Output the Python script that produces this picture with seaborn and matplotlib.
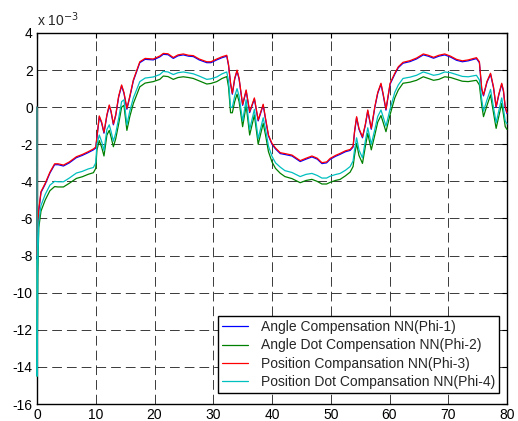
import numpy as np
import pandas as pd
import matplotlib
matplotlib.use("Agg")
import matplotlib.pyplot as plt
import seaborn as sns

# ---- data (values in units of 1e-3) ----
x = [0, 0.03, 0.12, 0.3, 0.68, 1.4, 2.2, 3.0, 3.6, 4.5, 5.5, 6.7, 7.7, 8.7, 9.6, 10.0,
     10.2, 10.6, 11.0, 11.4, 11.9, 12.3, 12.6, 13.0, 13.4, 13.9, 14.4, 14.8, 15.3, 15.8, 16.4,
     17.5, 18.4, 19.8, 20.9, 21.5, 22.3, 23.2, 24.0, 24.9, 25.8, 26.6, 27.6, 28.9, 29.6, 30.6, 31.5, 32.3,
     32.6, 32.95, 33.25, 33.65, 34.05, 34.4, 35.0, 35.6, 36.2, 37.0, 37.65, 38.5, 38.9, 39.4, 40.0, 40.6,
     41.4, 42.2, 43.4, 44.8, 45.8, 46.8, 47.7, 48.5, 49.3, 49.9, 50.8, 51.6, 52.5, 53.3, 53.8,
     54.05, 54.4, 54.8, 55.4, 55.9, 56.3, 56.9, 57.5, 58.0, 58.55, 58.9, 59.4, 60.1, 60.9, 61.5,
     62.3, 63.5, 64.6, 65.75, 66.6, 67.5, 68.4, 69.4, 70.4, 71.4, 72.4, 73.4, 74.8, 75.3,
     75.7, 76.0, 76.6, 77.2, 77.7, 78.15, 78.6, 79.1, 79.4, 79.7, 80.0]

phi1 = [0, -8.2, -6.6, -5.6, -4.6, -4.15, -3.55, -3.1, -3.1, -3.17, -3.0, -2.72, -2.6, -2.45, -2.3, -2.2,
        -1.65, -0.52, -0.85, -1.4, -0.45, 0.07, -0.25, -0.95, -0.45, 0.55, 1.15, 0.75, -0.11, 0.55, 1.42,
        2.4, 2.58, 2.55, 2.71, 2.85, 2.83, 2.63, 2.77, 2.82, 2.75, 2.73, 2.55, 2.4, 2.4, 2.55, 2.67, 2.75,
        2.25, 1.25, 0.7, 1.51, 1.95, 1.51, 0.1, 0.88, -0.29, 0.45, -0.74, 0.11, -0.65, -1.55, -2.0, -2.25,
        -2.5, -2.55, -2.63, -2.93, -2.8, -2.68, -2.8, -3.04, -3.0, -2.81, -2.65, -2.54, -2.4, -2.33, -2.15,
        -1.35, -0.56, -1.19, -1.65, -0.95, -0.2, -1.19, -0.02, 0.75, 1.24, 0.7, -0.16, 1.24, 1.78, 2.13,
        2.37, 2.46, 2.6, 2.82, 2.75, 2.64, 2.75, 2.82, 2.7, 2.53, 2.45, 2.5, 2.62, 2.4,
        0.95, 0.61, 1.35, 1.78, 1.05, -0.02, 0.65, 1.24, 0.85, -0.02, -0.35]

phi2 = [0, -14.5, -9.0, -6.5, -5.6, -5.0, -4.5, -4.28, -4.3, -4.3, -4.1, -3.84, -3.75, -3.62, -3.53, -3.3,
        -2.3, -1.8, -2.15, -2.63, -1.5, -1.25, -1.6, -2.13, -1.7, -0.9, 0.0, 0.1, -1.25, -0.5, 0.2,
        1.1, 1.3, 1.38, 1.5, 1.68, 1.65, 1.5, 1.6, 1.64, 1.6, 1.55, 1.42, 1.25, 1.28, 1.38, 1.55, 1.65,
        1.1, -0.3, -0.3, 0.3, 0.7, 0.3, -1.05, 0.1, -1.5, -0.42, -2.0, -0.87, -1.5, -2.4, -2.95, -3.3,
        -3.56, -3.74, -3.85, -4.07, -3.95, -3.89, -4.0, -4.14, -4.14, -4.05, -3.95, -3.89, -3.7, -3.5, -3.2,
        -2.6, -1.95, -2.6, -3.03, -2.1, -1.41, -2.3, -1.5, -0.8, -0.45, -0.8, -1.32, -0.4, 0.5, 0.93,
        1.29, 1.35, 1.45, 1.64, 1.55, 1.45, 1.5, 1.64, 1.6, 1.5, 1.4, 1.38, 1.45, 1.2,
        0.1, -0.51, 0.1, 0.66, -0.3, -1.14, -0.5, 0.2, -0.4, -1.05, -1.2]

phi3 = [0, -8.0, -6.5, -5.5, -4.55, -4.1, -3.5, -3.05, -3.05, -3.12, -2.95, -2.67, -2.55, -2.4, -2.25, -2.15,
        -1.6, -0.47, -0.8, -1.35, -0.4, 0.12, -0.2, -0.9, -0.4, 0.6, 1.2, 0.8, -0.06, 0.6, 1.47,
        2.45, 2.63, 2.6, 2.76, 2.9, 2.88, 2.68, 2.82, 2.87, 2.8, 2.78, 2.6, 2.45, 2.45, 2.6, 2.72, 2.8,
        2.3, 1.3, 0.75, 1.56, 2.0, 1.56, 0.15, 0.93, -0.24, 0.5, -0.69, 0.16, -0.6, -1.5, -1.95, -2.2,
        -2.45, -2.5, -2.58, -2.88, -2.75, -2.63, -2.75, -2.99, -2.95, -2.76, -2.6, -2.49, -2.35, -2.28, -2.1,
        -1.3, -0.51, -1.14, -1.6, -0.9, -0.15, -1.14, 0.03, 0.8, 1.29, 0.75, -0.11, 1.29, 1.83, 2.18,
        2.42, 2.51, 2.65, 2.87, 2.8, 2.69, 2.8, 2.87, 2.75, 2.58, 2.5, 2.55, 2.67, 2.45,
        1.0, 0.66, 1.4, 1.83, 1.1, 0.03, 0.7, 1.29, 0.9, 0.03, -0.3]

phi4 = [0, -14.5, -8.6, -6.2, -5.3, -4.7, -4.2, -4.0, -4.02, -4.02, -3.82, -3.55, -3.46, -3.33, -3.25, -3.0,
        -2.0, -1.5, -1.85, -2.33, -1.2, -0.95, -1.3, -1.83, -1.4, -0.6, 0.3, 0.4, -0.95, -0.2, 0.5,
        1.38, 1.57, 1.63, 1.76, 1.93, 1.9, 1.76, 1.86, 1.9, 1.85, 1.8, 1.68, 1.5, 1.53, 1.63, 1.8, 1.9,
        1.4, 0.0, 0.0, 0.6, 1.0, 0.6, -0.75, 0.4, -1.2, -0.12, -1.7, -0.57, -1.2, -2.1, -2.65, -3.0,
        -3.23, -3.42, -3.52, -3.74, -3.62, -3.57, -3.68, -3.82, -3.82, -3.72, -3.63, -3.57, -3.4, -3.2, -2.9,
        -2.3, -1.65, -2.3, -2.73, -1.8, -1.11, -2.0, -1.2, -0.5, -0.15, -0.5, -1.02, -0.1, 0.8, 1.2,
        1.55, 1.62, 1.72, 1.9, 1.82, 1.72, 1.77, 1.9, 1.86, 1.76, 1.66, 1.64, 1.72, 1.47,
        0.4, -0.21, 0.4, 0.96, 0.0, -0.84, -0.2, 0.5, -0.1, -0.75, -0.9]

labels = ["Angle Compensation NN(Phi-1)",
          "Angle Dot Compensation NN(Phi-2)",
          "Position Compansation NN(Phi-3)",
          "Position Dot Compansation NN(Phi-4)"]
colors = ["#0000ff", "#008000", "#ff0000", "#00bfbf"]
xticks = [0, 10, 20, 30, 40, 50, 60, 70, 80]
yticks = [4, 2, 0, -2, -4, -6, -8, -10, -12, -14, -16]

series = [phi1, phi2, phi3, phi4]
df = pd.concat([pd.DataFrame({"t": x, "v": s, "series": lab})
                for s, lab in zip(series, labels)], ignore_index=True)

sns.set_style("white")
plt.rcParams["font.family"] = ["Liberation Sans", "DejaVu Sans"]
plt.rcParams["lines.scale_dashes"] = False

fig = plt.figure(figsize=(5.18, 4.21), dpi=100)
ax = fig.add_axes([37/518, 1-404/421, 470/518, 371/421])

sns.lineplot(data=df, x="t", y="v", hue="series", hue_order=labels,
             palette=dict(zip(labels, colors)), estimator=None, sort=False,
             linewidth=0.9, ax=ax)
for ln in ax.get_lines():
    ln.set_zorder(3)
    ln.set_clip_on(False)

ax.set_xlim(0, 80)
ax.set_ylim(-16, 4)
ax.set_xticks(xticks)
ax.set_yticks(yticks)
ax.set_xticklabels([str(t) for t in xticks], fontsize=10)
ax.set_yticklabels([str(t) for t in yticks], fontsize=10)
ax.set_xlabel("")
ax.set_ylabel("")
ax.grid(True, color="#1a1a1a", linestyle=(0, (7, 3.6)), linewidth=0.6)
ax.tick_params(direction="in", top=True, right=True, length=3.5, width=0.8,
               colors="black", pad=3)
for sp in ax.spines.values():
    sp.set_color("black")
    sp.set_linewidth(1.0)

ax.text(0.0, 1.012, r"x 10$^{-3}$", transform=ax.transAxes, ha="left", va="bottom",
        fontsize=10)

handles, labs = ax.get_legend_handles_labels()
leg = ax.legend(handles, labs, loc="lower right", bbox_to_anchor=(462/470, 11/371),
                borderaxespad=0, fontsize=10, frameon=True, fancybox=False,
                edgecolor="black", framealpha=1, handlelength=1.9, handletextpad=0.9,
                labelspacing=0.3, borderpad=0.3)
leg.set_zorder(5)
leg.get_frame().set_linewidth(1.0)

fig.savefig("out.png", dpi=100)
